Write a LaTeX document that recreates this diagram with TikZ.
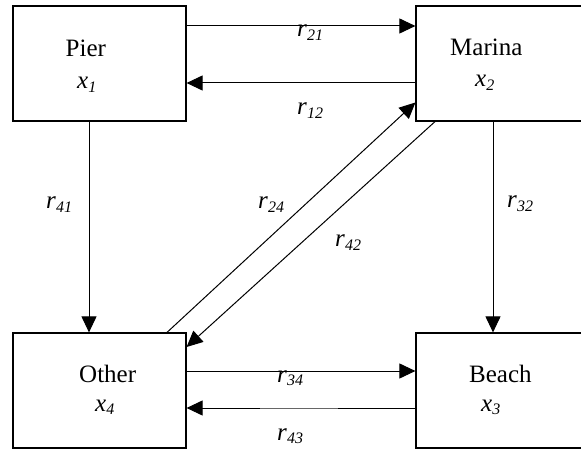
\documentclass[tikz,border=0pt]{standalone}
\usepackage{fontspec}
\setmainfont{Liberation Serif}
\usetikzlibrary{arrows.meta}
\newcommand\mysub[1]{\raisebox{-3.5pt}{\fontsize{16}{16}\selectfont\itshape #1}}
\newcommand\rr[1]{\textit{r}\mysub{#1}}
\newcommand\xx[1]{\textit{x}\mysub{#1}}
\tikzset{
  box/.style={draw=black, line width=1.2pt, rectangle, minimum width=173pt, minimum height=115pt, inner sep=0pt},
  conn/.style={draw=black, line width=1pt, -{Triangle[length=16pt,width=15pt]}},
  txt/.style={anchor=base west, inner sep=0pt, font=\fontsize{25}{29}\selectfont},
  lab/.style={anchor=base west, inner sep=0pt, font=\fontsize{25}{29}\selectfont}
}
\begin{document}
\begin{tikzpicture}[x=1pt,y=-1pt]
\useasboundingbox (0,0) rectangle (581,449);
\clip (0,0) rectangle (581,449);
\fill[white] (0,0) rectangle (581,449);
\node[box] (pier) at (99.5,63.5) {};
\node[box] (marina) at (502.5,63.5) {};
\node[box] (other) at (99.5,390.5) {};
\node[box] (beach) at (502.5,390.5) {};
% box texts
\node[txt] (tpier) at (65.5,57) {Pier};
\node[txt] (xpier) at (77,89) {\xx{1}};
\node[txt] (tmarina) at (450,56) {Marina};
\node[txt] (xmarina) at (475,87) {\xx{2}};
\node[txt] (tother) at (79,382) {Other};
\node[txt] (xother) at (95,411) {\xx{4}};
\node[txt] (tbeach) at (469,382) {Beach};
\node[txt] (xbeach) at (481,411) {\xx{3}};
% connectors
\draw[conn] ([yshift=37.5pt]pier.east) -- ([yshift=37.5pt]marina.west);
\draw[conn] ([yshift=-19.5pt]marina.west) -- ([yshift=-19.5pt]pier.east);
\draw[conn] ([xshift=-10.5pt]pier.south) -- ([xshift=-10.5pt]other.north);
\draw[conn] ([xshift=-9.5pt]marina.south) -- ([xshift=-9.5pt]beach.north);
\draw[conn] ([xshift=67.5pt]other.north) -- ([yshift=-39pt]marina.west);
\draw[conn] ([xshift=-67.5pt]marina.south) -- ([yshift=43.5pt]other.east);
\draw[conn] ([yshift=19.5pt]other.east) -- ([yshift=19.5pt]beach.west);
\draw[conn] ([yshift=-17.5pt]beach.west) -- ([yshift=-17.5pt]other.east);
\draw[white, line width=1.5pt] (260,408) -- (338,408);
\draw[black!60, line width=0.5pt] (260,408) -- (338,408);
% labels
\node[lab] (l21) at (297,37) {\rr{21}};
\node[lab] (l12) at (297,115) {\rr{12}};
\node[lab] (l41) at (46,209) {\rr{41}};
\node[lab] (l32) at (507,208) {\rr{32}};
\node[lab] (l24) at (258,209) {\rr{24}};
\node[lab] (l42) at (335,247) {\rr{42}};
\node[lab] (l34) at (277,382) {\rr{34}};
\node[lab] (l43) at (277,440) {\rr{43}};
\end{tikzpicture}
\end{document}
